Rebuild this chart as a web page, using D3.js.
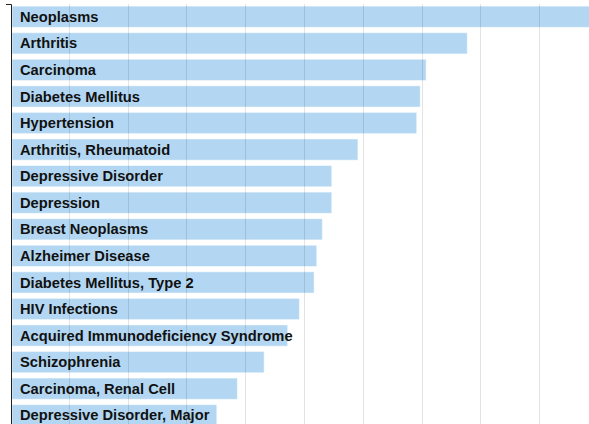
<!DOCTYPE html>
<html>
<head>
<meta charset="utf-8">
<script src="https://cdn.jsdelivr.net/npm/d3@7"></script>
<style>
  body { margin: 0; background: #fff; }
  .label { font-family: "Liberation Sans", Arial, sans-serif; font-weight: bold; font-size: 14.7px; fill: #111; }
</style>
</head>
<body>
<div class="chart"></div>
<script>
// terms, sorted by count
const terms = [
  'Neoplasms', 'Arthritis', 'Carcinoma', 'Diabetes Mellitus', 'Hypertension',
  'Arthritis, Rheumatoid', 'Depressive Disorder', 'Depression', 'Breast Neoplasms',
  'Alzheimer Disease', 'Diabetes Mellitus, Type 2', 'HIV Infections',
  'Acquired Immunodeficiency Syndrome', 'Schizophrenia', 'Carcinoma, Renal Cell',
  'Depressive Disorder, Major'
];
const counts = [
  10500, 7760, 7060, 6960, 6900,
  5900, 5455, 5455, 5295,
  5200, 5155, 4905,
  4705, 4305, 3850,
  3500
];

const width = 589, height = 424;
const margin = { top: 4, left: 11 };

const data = terms.map((t, i) => ({ text: t, count: counts[i] }));

const x = d3.scaleLinear()
  .domain([0, 10000])
  .range([0, 588]);

const y = d3.scaleBand()
  .domain(terms)
  .range([0, 424])
  .paddingInner(0.2)
  .paddingOuter(0.08);

const svg = d3.select('.chart')
  .append('svg')
  .attr('width', width)
  .attr('height', height);

const g = svg.append('g')
  .attr('transform', `translate(${margin.left},${margin.top})`);

// bars
g.selectAll('rect.bar')
  .data(data)
  .enter()
  .append('rect')
  .attr('class', 'bar')
  .attr('x', 1)
  .attr('y', d => y(d.text))
  .attr('height', y.bandwidth())
  .attr('width', d => x(d.count) - 1)
  .attr('fill', '#b3d7f2')
  .attr('stroke', 'rgba(255,255,255,0.5)')
  .attr('stroke-width', 1);

// grid on top
g.append('g')
  .selectAll('line')
  .data(x.ticks(10).filter(d => d > 0))
  .enter()
  .append('line')
  .attr('x1', d => Math.round(x(d)) - 0.5)
  .attr('x2', d => Math.round(x(d)) - 0.5)
  .attr('y1', 0)
  .attr('y2', 440)
  .attr('stroke', 'rgba(0,0,0,0.11)');

// labels inside bars
g.selectAll('text.label')
  .data(data)
  .enter()
  .append('text')
  .attr('class', 'label')
  .attr('x', 9)
  .attr('y', d => y(d.text) + y.bandwidth() / 2)
  .attr('dy', '0.35em')
  .text(d => d.text);

// left axis, no labels
const yAxis = d3.axisLeft(y)
  .tickFormat('')
  .tickSizeInner(0)
  .tickSizeOuter(5);

g.append('g')
  .call(yAxis)
  .call(a => a.select('.domain').attr('stroke', '#222'));
</script>
</body>
</html>
